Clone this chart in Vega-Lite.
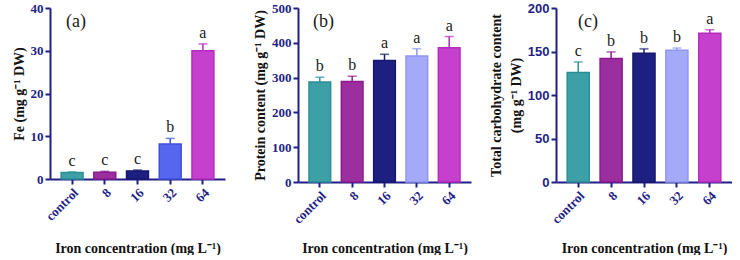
{
  "$schema": "https://vega.github.io/schema/vega-lite/v6.json",
  "background": "white",
  "padding": {"left": 12, "top": 2, "right": 0, "bottom": 0},
  "bounds": "flush",
  "spacing": 73,
  "resolve": {"scale": {"fill": "independent", "stroke": "independent", "color": "independent"}},
  "config": {
    "view": {"stroke": null},
    "axis": {
      "grid": false,
      "domainColor": "#1f1f86",
      "domainWidth": 2,
      "tickColor": "#1f1f86",
      "tickWidth": 2,
      "tickSize": 5,
      "labelColor": "#1f1f86",
      "labelFont": "Times New Roman, Liberation Serif, serif",
      "labelFontWeight": "bold",
      "labelFontSize": 13,
      "titleFont": "Times New Roman, Liberation Serif, serif",
      "titleFontWeight": "bold",
      "titleFontSize": 14,
      "titleColor": "#111111"
    },
    "title": {"font": "Times New Roman, Liberation Serif, serif", "fontWeight": "normal", "fontSize": 18, "color": "#1a1a1a", "anchor": "start", "frame": "group", "baseline": "alphabetic", "offset": -29, "dx": 16},
    "text": {"font": "Times New Roman, Liberation Serif, serif", "color": "#1a1a1a", "fontWeight": "normal"}
  },
  "datasets": {
    "iron": [
      {"panel": "a", "conc": "control", "mean": 1.5, "hi": 1.65, "letter": "c"},
      {"panel": "a", "conc": "8", "mean": 1.6, "hi": 1.8, "letter": "c"},
      {"panel": "a", "conc": "16", "mean": 1.9, "hi": 2.1, "letter": "c"},
      {"panel": "a", "conc": "32", "mean": 8.2, "hi": 9.5, "letter": "b"},
      {"panel": "a", "conc": "64", "mean": 30.0, "hi": 31.6, "letter": "a"},
      {"panel": "b", "conc": "control", "mean": 287, "hi": 301, "letter": "b"},
      {"panel": "b", "conc": "8", "mean": 289, "hi": 304, "letter": "b"},
      {"panel": "b", "conc": "16", "mean": 349, "hi": 367, "letter": "a"},
      {"panel": "b", "conc": "32", "mean": 362, "hi": 383, "letter": "a"},
      {"panel": "b", "conc": "64", "mean": 386, "hi": 418, "letter": "a"},
      {"panel": "c", "conc": "control", "mean": 126, "hi": 138, "letter": "c"},
      {"panel": "c", "conc": "8", "mean": 142, "hi": 149.5, "letter": "b"},
      {"panel": "c", "conc": "16", "mean": 148, "hi": 153, "letter": "b"},
      {"panel": "c", "conc": "32", "mean": 151.5, "hi": 154, "letter": "b"},
      {"panel": "c", "conc": "64", "mean": 171, "hi": 175, "letter": "a"}
    ]
  },
  "hconcat": [
    {
      "width": 175,
      "height": 171,
      "title": "(a)",
      "data": {"name": "iron"},
      "transform": [{"filter": "datum.panel == 'a'"}],
      "encoding": {
        "x": {
          "field": "conc", "type": "nominal", "sort": null,
          "scale": {"paddingInner": 0.33, "paddingOuter": 0.34},
          "axis": {"labelAngle": -45, "title": "Iron concentration (mg L⁻¹)", "titleY": 73, "titleBaseline": "alphabetic"}
        }
      },
      "layer": [
        {
          "mark": {"type": "bar", "strokeWidth": 1.5},
          "encoding": {
            "y": {"field": "mean", "type": "quantitative", "title": "Fe (mg g⁻¹ DW)",
                  "scale": {"domain": [0, 40], "nice": false},
                  "axis": {"values": [0, 10, 20, 30, 40]}},
            "fill": {"field": "conc", "type": "nominal", "legend": null,
                     "scale": {"domain": ["control", "8", "16", "32", "64"], "range": ["#3ea0a7", "#9c2f9f", "#1d2080", "#5666ee", "#c640ce"]}},
            "stroke": {"field": "conc", "type": "nominal", "legend": null,
                       "scale": {"domain": ["control", "8", "16", "32", "64"], "range": ["#2a8f95", "#8a1a8e", "#15176e", "#4250d8", "#b52cbd"]}}
          }
        },
        {
          "mark": {"type": "rule", "strokeWidth": 1.5},
          "encoding": {
            "y": {"field": "mean", "type": "quantitative", "title": "Fe (mg g⁻¹ DW)",
                  "axis": {"values": [0, 10, 20, 30, 40]}},
            "y2": {"field": "hi"},
            "color": {"field": "conc", "type": "nominal", "legend": null,
                      "scale": {"domain": ["control", "8", "16", "32", "64"], "range": ["#2a8f95", "#8a1a8e", "#15176e", "#4250d8", "#b52cbd"]}}
          }
        },
        {
          "mark": {"type": "tick", "size": 9, "thickness": 1.5},
          "encoding": {
            "y": {"field": "hi", "type": "quantitative", "title": "Fe (mg g⁻¹ DW)",
                  "axis": {"values": [0, 10, 20, 30, 40]}},
            "color": {"field": "conc", "type": "nominal", "legend": null,
                      "scale": {"domain": ["control", "8", "16", "32", "64"], "range": ["#2a8f95", "#8a1a8e", "#15176e", "#4250d8", "#b52cbd"]}}
          }
        },
        {
          "mark": {"type": "text", "baseline": "alphabetic", "dy": -6, "fontSize": 16},
          "encoding": {
            "y": {"field": "hi", "type": "quantitative", "title": "Fe (mg g⁻¹ DW)",
                  "axis": {"values": [0, 10, 20, 30, 40]}},
            "text": {"field": "letter"}
          }
        }
      ]
    },
    {
      "bounds": "flush",
      "spacing": 85,
      "resolve": {"scale": {"fill": "independent", "stroke": "independent", "color": "independent"}},
      "hconcat": [
        {
          "width": 173,
          "height": 174,
          "title": {"text": "(b)", "dx": 15},
          "data": {"name": "iron"},
          "transform": [{"filter": "datum.panel == 'b'"}],
          "encoding": {
            "x": {
              "field": "conc", "type": "nominal", "sort": null,
              "scale": {"paddingInner": 0.33, "paddingOuter": 0.34},
              "axis": {"labelAngle": -45, "title": "Iron concentration (mg L⁻¹)", "titleY": 70, "titleBaseline": "alphabetic"}
            }
          },
          "layer": [
            {
              "mark": {"type": "bar", "strokeWidth": 1.5},
              "encoding": {
                "y": {"field": "mean", "type": "quantitative", "title": "Protein content (mg g⁻¹ DW)",
                      "scale": {"domain": [0, 500], "nice": false},
                      "axis": {"values": [0, 100, 200, 300, 400, 500]}},
                "fill": {"field": "conc", "type": "nominal", "legend": null,
                         "scale": {"domain": ["control", "8", "16", "32", "64"], "range": ["#3ea0a7", "#9c2f9f", "#1d2080", "#a4aaf7", "#c640ce"]}},
                "stroke": {"field": "conc", "type": "nominal", "legend": null,
                           "scale": {"domain": ["control", "8", "16", "32", "64"], "range": ["#2a8f95", "#8a1a8e", "#15176e", "#8f96ef", "#b52cbd"]}}
              }
            },
            {
              "mark": {"type": "rule", "strokeWidth": 1.5},
              "encoding": {
                "y": {"field": "mean", "type": "quantitative", "title": "Protein content (mg g⁻¹ DW)",
                      "axis": {"values": [0, 100, 200, 300, 400, 500]}},
                "y2": {"field": "hi"},
                "color": {"field": "conc", "type": "nominal", "legend": null,
                          "scale": {"domain": ["control", "8", "16", "32", "64"], "range": ["#2a8f95", "#8a1a8e", "#15176e", "#8f96ef", "#b52cbd"]}}
              }
            },
            {
              "mark": {"type": "tick", "size": 9, "thickness": 1.5},
              "encoding": {
                "y": {"field": "hi", "type": "quantitative", "title": "Protein content (mg g⁻¹ DW)",
                      "axis": {"values": [0, 100, 200, 300, 400, 500]}},
                "color": {"field": "conc", "type": "nominal", "legend": null,
                          "scale": {"domain": ["control", "8", "16", "32", "64"], "range": ["#2a8f95", "#8a1a8e", "#15176e", "#8f96ef", "#b52cbd"]}}
              }
            },
            {
              "mark": {"type": "text", "baseline": "alphabetic", "dy": -6, "fontSize": 16},
              "encoding": {
                "y": {"field": "hi", "type": "quantitative", "title": "Protein content (mg g⁻¹ DW)",
                      "axis": {"values": [0, 100, 200, 300, 400, 500]}},
                "text": {"field": "letter"}
              }
            }
          ]
        },
        {
          "width": 176,
          "height": 174,
          "title": {"text": "(c)", "dx": 22},
          "data": {"name": "iron"},
          "transform": [{"filter": "datum.panel == 'c'"}],
          "encoding": {
            "x": {
              "field": "conc", "type": "nominal", "sort": null,
              "scale": {"paddingInner": 0.33, "paddingOuter": 0.34},
              "axis": {"labelAngle": -45, "title": "Iron concentration (mg L⁻¹)", "titleY": 70, "titleBaseline": "alphabetic"}
            }
          },
          "layer": [
            {
              "mark": {"type": "bar", "strokeWidth": 1.5},
              "encoding": {
                "y": {"field": "mean", "type": "quantitative", "title": ["Total carbohydrate content", "(mg g⁻¹ DW)"],
                      "scale": {"domain": [0, 200], "nice": false},
                      "axis": {"values": [0, 50, 100, 150, 200], "labelFont": "Arial, Liberation Sans, sans-serif", "titleLineHeight": 20}},
                "fill": {"field": "conc", "type": "nominal", "legend": null,
                         "scale": {"domain": ["control", "8", "16", "32", "64"], "range": ["#3ea0a7", "#9c2f9f", "#1d2080", "#a4aaf7", "#c640ce"]}},
                "stroke": {"field": "conc", "type": "nominal", "legend": null,
                           "scale": {"domain": ["control", "8", "16", "32", "64"], "range": ["#2a8f95", "#8a1a8e", "#15176e", "#8f96ef", "#b52cbd"]}}
              }
            },
            {
              "mark": {"type": "rule", "strokeWidth": 1.5},
              "encoding": {
                "y": {"field": "mean", "type": "quantitative", "title": ["Total carbohydrate content", "(mg g⁻¹ DW)"],
                      "axis": {"values": [0, 50, 100, 150, 200], "labelFont": "Arial, Liberation Sans, sans-serif", "titleLineHeight": 20}},
                "y2": {"field": "hi"},
                "color": {"field": "conc", "type": "nominal", "legend": null,
                          "scale": {"domain": ["control", "8", "16", "32", "64"], "range": ["#2a8f95", "#8a1a8e", "#15176e", "#8f96ef", "#b52cbd"]}}
              }
            },
            {
              "mark": {"type": "tick", "size": 9, "thickness": 1.5},
              "encoding": {
                "y": {"field": "hi", "type": "quantitative", "title": ["Total carbohydrate content", "(mg g⁻¹ DW)"],
                      "axis": {"values": [0, 50, 100, 150, 200], "labelFont": "Arial, Liberation Sans, sans-serif", "titleLineHeight": 20}},
                "color": {"field": "conc", "type": "nominal", "legend": null,
                          "scale": {"domain": ["control", "8", "16", "32", "64"], "range": ["#2a8f95", "#8a1a8e", "#15176e", "#8f96ef", "#b52cbd"]}}
              }
            },
            {
              "mark": {"type": "text", "baseline": "alphabetic", "dy": -6, "fontSize": 16},
              "encoding": {
                "y": {"field": "hi", "type": "quantitative", "title": ["Total carbohydrate content", "(mg g⁻¹ DW)"],
                      "axis": {"values": [0, 50, 100, 150, 200], "labelFont": "Arial, Liberation Sans, sans-serif", "titleLineHeight": 20}},
                "text": {"field": "letter"}
              }
            }
          ]
        }
      ]
    }
  ]
}
